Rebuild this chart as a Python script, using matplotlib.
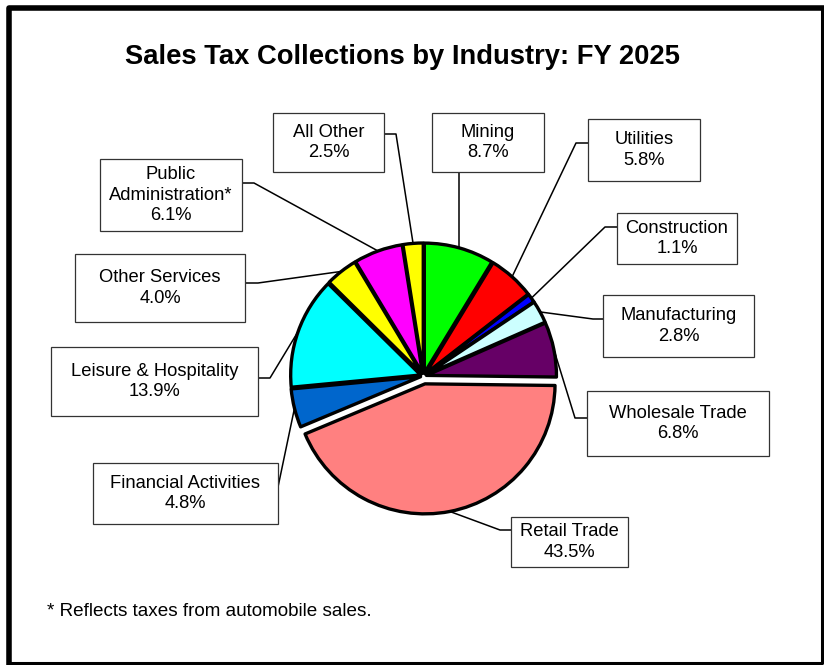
import numpy as np
import matplotlib.pyplot as plt
from matplotlib.patches import Rectangle

plt.rcParams['font.family'] = ['Liberation Sans', 'DejaVu Sans']

industries = ["Mining", "Utilities", "Construction", "Manufacturing",
              "Wholesale Trade", "Retail Trade", "Financial Activities",
              "Leisure & Hospitality", "Other Services",
              "Public\nAdministration*", "All Other"]
shares = [8.7, 5.8, 1.1, 2.8, 6.8, 43.5, 4.8, 13.9, 4.0, 6.1, 2.5]
colors = ["#00FF00", "#FF0000", "#0000FF", "#CCFFFF", "#660066", "#FF8080",
          "#0066CC", "#00FFFF", "#FFFF00", "#FF00FF", "#FFFF00"]

# label boxes in pixels: (left, top, right, bottom), leader side, leader y, elbow length
boxes = [
    ((432, 113, 544, 172), "bottom", None, 0),
    ((588, 119, 700, 181), "left", 143, 12),
    ((617, 213, 737, 264), "left", 227, 12),
    ((603, 295, 754, 357), "left", 319, 10),
    ((587, 391, 769, 456), "left", 418, 12),
    ((511, 517, 628, 567), "left", 530, 11),
    ((93, 463, 278, 524), "right", 487, 0),
    ((51, 347, 258, 416), "right", 378, 12),
    ((75, 254, 245, 322), "right", 283, 13),
    ((100, 159, 242, 231), "right", 183, 12),
    ((273, 113, 384, 172), "right", 134, 12),
]

W, H = 824, 665
fig = plt.figure(figsize=(W / 100, H / 100), dpi=100)
ax = fig.add_axes([0, 0, 1, 1])

r = 130
explode = [8 if n == "Retail Trade" else 3 for n in industries]
wedges, _ = ax.pie(shares, colors=colors, explode=explode, radius=r,
                   center=(423.5, 376), startangle=-90, counterclock=True,
                   wedgeprops=dict(edgecolor="black", linewidth=2.4,
                                   joinstyle="round"))
ax.set_xlim(0, W)
ax.set_ylim(H, 0)
ax.axis("off")

for w, name, share, (box, side, ly, el) in zip(wedges, industries, shares, boxes):
    left, top, right, bottom = box
    tm = np.deg2rad((w.theta1 + w.theta2) / 2)
    px = w.center[0] + r * np.cos(tm)
    py = w.center[1] + r * np.sin(tm)
    if side == "left":
        pts = [(left, ly), (left - el, ly), (px, py)]
    elif side == "right":
        pts = [(right, ly), (right + el, ly), (px, py)]
    else:
        pts = [(px, bottom), (px, py)]
    xs, ys = zip(*pts)
    ax.plot(xs, ys, color="black", lw=1.1, zorder=0.5)

    ax.add_patch(Rectangle((left, top), right - left, bottom - top,
                           facecolor="white", edgecolor="#333333", lw=0.9, zorder=3))
    ax.text((left + right) / 2, (top + bottom) / 2, f"{name}\n{share:.1f}%",
            ha="center", va="center", fontsize=13.2, linespacing=1.3, zorder=4)

ax.text(402.5, 57, "Sales Tax Collections by Industry: FY 2025", ha="center",
        va="center", fontsize=19.7, fontweight="bold")
ax.text(47, 611, "* Reflects taxes from automobile sales.", ha="left",
        va="center", fontsize=13.6)

# outer frame, heavier on top/left like the original
ax.plot([9.5, 9.5, 822], [663, 8, 8], color="black", lw=4.0,
        solid_capstyle="projecting", clip_on=False)
ax.plot([822, 822, 9.5], [8, 663, 663], color="black", lw=2.2,
        solid_capstyle="projecting", clip_on=False)

fig.savefig("out.png", dpi=100)
